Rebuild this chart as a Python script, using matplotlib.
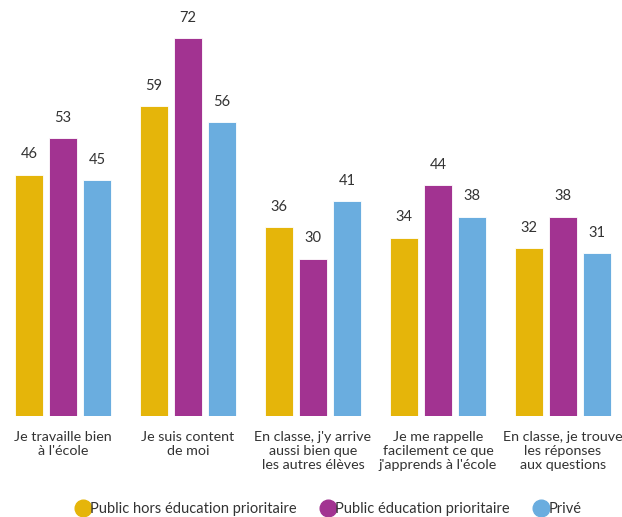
import matplotlib
matplotlib.use("Agg")
import matplotlib.pyplot as plt
from matplotlib.lines import Line2D
import numpy as np

categories = ["Je travaille bien\nà l'école", "Je suis content\nde moi",
              "En classe, j'y arrive\naussi bien que\nles autres élèves",
              "Je me rappelle\nfacilement ce que\nj'apprends à l'école",
              "En classe, je trouve\nles réponses\naux questions"]
series_names = ["Public hors éducation prioritaire", "Public éducation prioritaire", "Privé"]
hors_ep = [46, 59, 36, 34, 32]
ep = [53, 72, 30, 44, 38]
prive = [45, 56, 41, 38, 31]
colors = ["#E5B50A", "#A23391", "#6AADDF"]

plt.rcParams['font.family'] = ['Lato', 'DejaVu Sans']
fig = plt.figure(figsize=(6.22, 5.17), dpi=100)
ax = fig.add_axes([0, 101/517, 1, 416/517])

x = np.arange(len(categories))
w = 0.224
off = 0.272
txt = "#333333"
fs = 10.5
for i, (vals, c) in enumerate(zip([hors_ep, ep, prive], colors)):
    pos = x + (i - 1) * off
    bars = ax.bar(pos, vals, width=w, color=c, edgecolor="white", linewidth=0.6)
    for b, v in zip(bars, vals):
        ax.text(b.get_x() + b.get_width()/2, v + 2.5, str(v), ha="center", va="bottom",
                fontsize=fs, color=txt)

ax.set_xlim(-0.504, 4.472)
ax.set_ylim(0, 79.24)
ax.set_xticks(x)
ax.set_xticklabels(categories, fontsize=10.3, color=txt, linespacing=1.17)
ax.tick_params(axis="x", length=0, pad=11)
ax.set_yticks([])
for s in ax.spines.values():
    s.set_visible(False)

handles = [Line2D([], [], marker="o", linestyle="none", markersize=12, markerfacecolor=c,
                  markeredgecolor=c) for c in colors]
fig.legend(handles, series_names, loc="lower center", bbox_to_anchor=(0.527, -0.024), ncol=3,
           frameon=False, fontsize=fs, handletextpad=-0.1, columnspacing=1.55,
           handlelength=1.2, labelcolor=txt)

fig.savefig("out.png", dpi=100)
